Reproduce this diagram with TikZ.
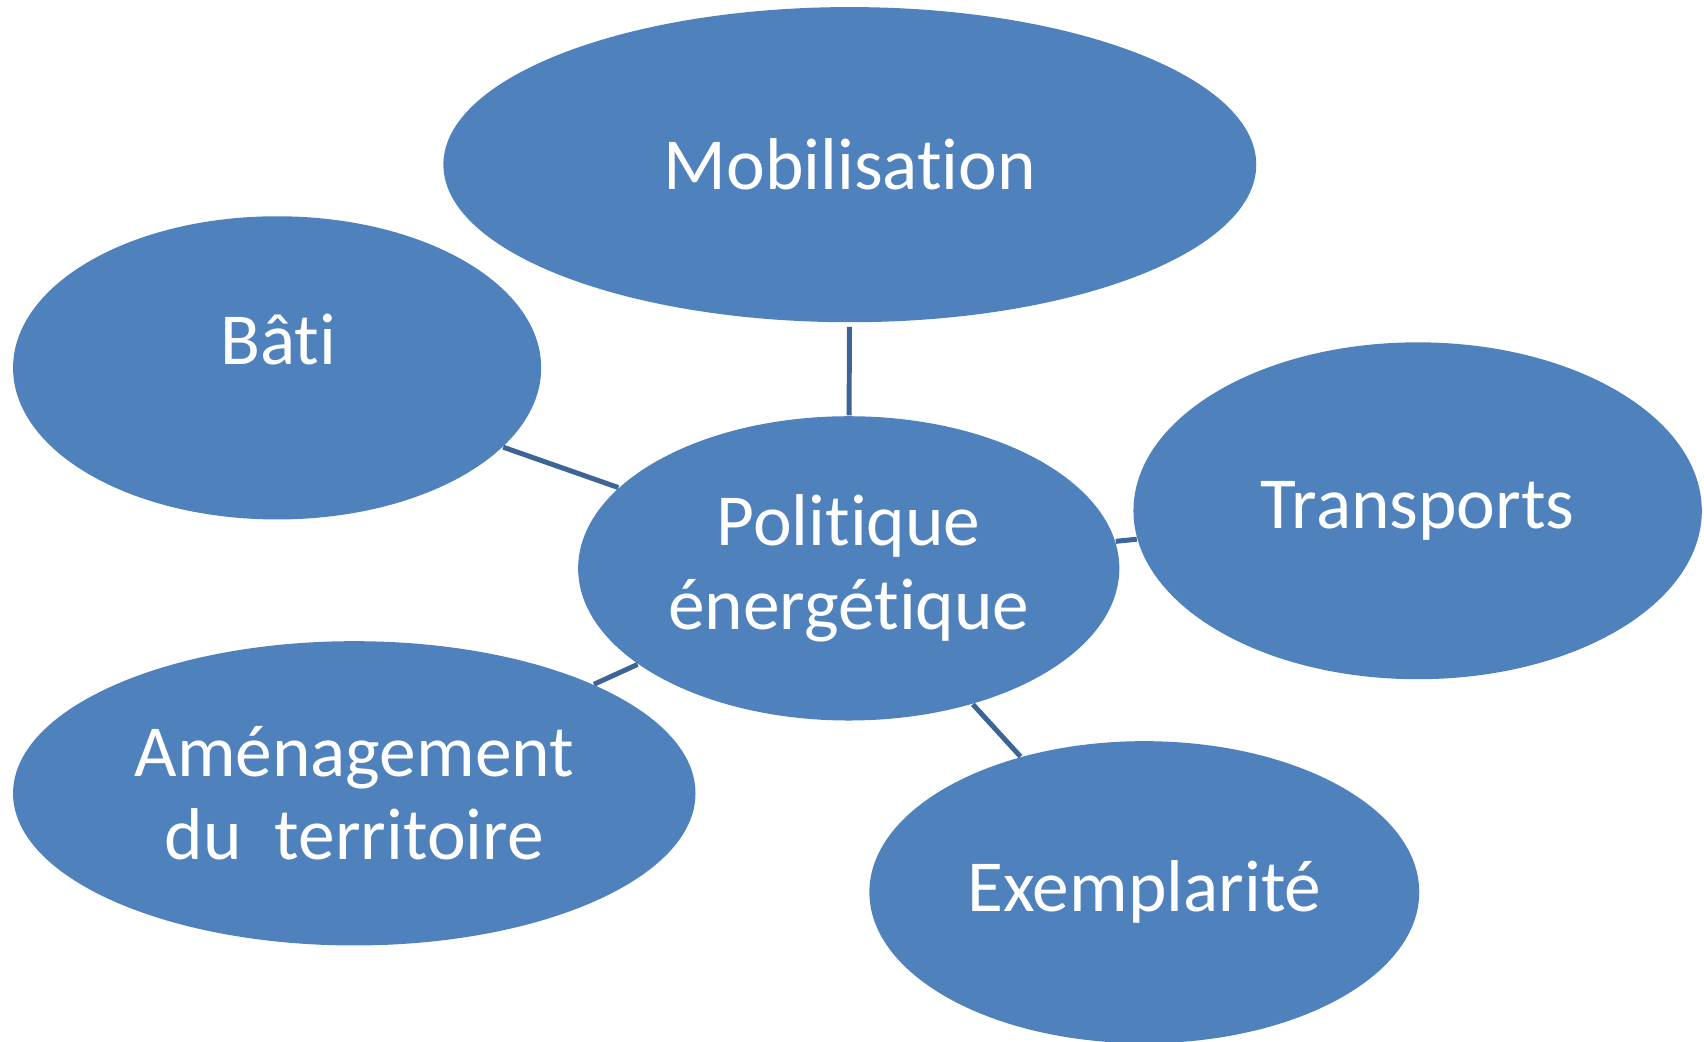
\documentclass[tikz,border=0pt]{standalone}
\usepackage{fontspec}
\setmainfont{Carlito}[Ligatures=NoCommon]
\usetikzlibrary{shapes.geometric}
\definecolor{bubblecol}{HTML}{4F81BD}
\definecolor{linkcol}{HTML}{3C6496}
\tikzset{
  bubble/.style 2 args={ellipse, fill=bubblecol, draw=none, inner sep=0pt,
    minimum width=#1*0.01cm, minimum height=#2*0.01cm,
    text=white, align=center, font=\fontsize{19.2}{21.8}\selectfont},
  lbl/.style={text=white, inner sep=0pt, font=\fontsize{19.2}{21.8}\selectfont},
  link/.style={draw=linkcol, line width=1.3pt}
}
\begin{document}
\begin{tikzpicture}[x=0.01cm, y=-0.01cm]
\useasboundingbox (0,0) rectangle (1568,958.8);
\node[bubble={748}{290}] (mob) at (782,151.5) {Mobilisation};
\node[bubble={486}{279}] (bati) at (255,338.5) {};
\node[lbl, anchor=base] (batitxt) at (256,335) {Bâti};
\node[bubble={498}{280}] (pol) at (781,523) {Politique\\énergétique};
\node[bubble={523}{310}] (tra) at (1304.5,470) {Transports};
\node[bubble={628}{280}] (ame) at (326,730) {Aménagement\\du\ \ territoire};
\node[bubble={506}{278}] (exe) at (1053,821) {Exemplarité};
\draw[link, shorten <=1pt] (mob) -- (pol);
\draw[link] (bati) -- (pol);
\draw[link] (tra) -- (pol);
\draw[link] (ame) -- (pol);
\draw[link] (exe) -- (pol);
\end{tikzpicture}
\end{document}
